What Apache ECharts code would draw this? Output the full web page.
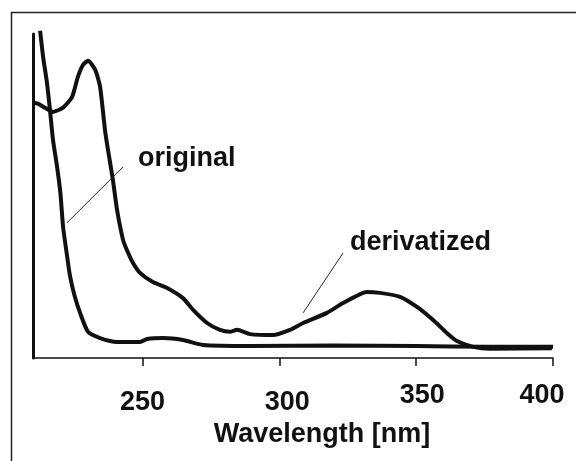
<!DOCTYPE html>
<html>
<head>
<meta charset="utf-8">
<script src="https://cdn.jsdelivr.net/npm/echarts@6/dist/echarts.min.js"></script>
<style>html,body{margin:0;padding:0;background:#fff}#c{width:576px;height:461px}</style>
</head>
<body>
<div id="c"></div>
<script>
// Wavelength (nm) and absorbance (arbitrary units)
var originalWl  = [212.6,213.7,215.1,216.2,217.3,218.8,220.0,221.0,222.4,223.5,225.3,227.2,230.1,234.5,240.7,249.1,251.7,257.5,264.8,272.1,289.3,320,350,375,400];
var originalAbs = [100,92.0,84.1,75.8,66.7,58.4,50.5,40.0,31.5,25.2,18.7,13.8,8.0,6.1,4.9,4.9,5.8,6.1,5.5,4.0,3.7,3.8,3.7,3.4,3.4];
var derivWl  = [210,211.8,213.7,217.3,221.0,224.3,226.4,228.3,230.1,232.7,234.5,236.3,237.4,239.2,240.7,242.9,244.3,246.5,249.1,253.8,259.0,264.8,268.5,273.6,278.3,282.0,284.5,289.3,297.7,303.9,308.7,317.4,323.3,332.0,336.8,344.1,350.3,356.2,361.3,364.9,370.8,377.0,399.6];
var derivAbs = [78.0,77.7,76.8,75.2,76.5,79.8,85.9,89.6,90.8,88.1,82.9,69.7,63.6,54.4,45.3,36.1,33.0,29.1,26.0,23.2,21.4,18.3,14.7,10.7,8.6,8.0,8.6,7.3,7.0,8.6,10.7,13.8,16.8,20.2,19.9,18.7,15.6,11.6,7.6,5.2,3.4,2.8,3.0];
var xTicks = [250, 300, 350, 400];
var xName = 'Wavelength [nm]';
// annotations: label text, label anchor [wl, abs], leader line [[wl,abs],[wl,abs]]
var originalLabel = 'original';
var originalLabelAt = [248.4, 61.0];
var originalLeader = [[242.9, 58.4], [222.4, 41.3]];
var derivLabel = 'derivatized';
var derivLabelAt = [325.8, 35.3];
var derivLeader = [[323.3, 32.1], [308.7, 13.8]];

function zip(a, b) { return a.map(function (v, i) { return [v, b[i]]; }); }

var FONT = 'Liberation Sans, Arial, sans-serif';
var INK = '#111';
var chart = echarts.init(document.getElementById('c'), null, {renderer: 'canvas'});

function annot(at, text, leader) {
  return {
    markPoint: {
      silent: true, animation: false,
      symbol: 'circle', symbolSize: 0,
      data: [{coord: at, value: text}],
      label: {show: true, position: 'right', distance: 0, formatter: text,
        fontFamily: FONT, fontWeight: 'bold', fontSize: 27, color: INK}
    },
    markLine: {
      silent: true, animation: false, symbol: ['none', 'none'],
      label: {show: false},
      lineStyle: {color: '#222', width: 1, type: 'solid'},
      data: [[{coord: leader[0]}, {coord: leader[1]}]]
    }
  };
}

var s1 = {
  type: 'line', name: 'original', data: zip(originalWl, originalAbs),
  showSymbol: false, smooth: 0.2, clip: false,
  lineStyle: {color: INK, width: 4}
};
Object.assign(s1, annot(originalLabelAt, originalLabel, originalLeader));
var s2 = {
  type: 'line', name: 'derivatized', data: zip(derivWl, derivAbs),
  showSymbol: false, smooth: 0.2, clip: false,
  lineStyle: {color: INK, width: 4}
};
Object.assign(s2, annot(derivLabelAt, derivLabel, derivLeader));

var rich = {
  t250: {padding: [7, 0, 0, 0]},
  t300: {padding: [7, 0, 0, 16]},
  t350: {padding: [0, 0, 0, 12]},
  t400: {padding: [0, 22, 0, 0]}
};
Object.keys(rich).forEach(function (k) {
  rich[k].fontFamily = FONT; rich[k].fontWeight = 'bold'; rich[k].fontSize = 27; rich[k].color = INK;
});

chart.setOption({
  animation: false,
  backgroundColor: '#fff',
  grid: {left: 33, right: 23, top: 34, bottom: 103},
  xAxis: {
    type: 'value', min: 210, max: 400,
    name: xName, nameLocation: 'middle', nameGap: 63,
    nameTextStyle: {fontFamily: FONT, fontWeight: 'bold', fontSize: 27, color: INK, padding: [0, 0, 0, 58]},
    axisLine: {show: true, lineStyle: {color: INK, width: 1.5}},
    axisTick: {show: true, inside: false, length: 8, customValues: xTicks, lineStyle: {color: INK, width: 1.5}},
    axisLabel: {show: true, margin: 24, customValues: xTicks,
      fontFamily: FONT, fontWeight: 'bold', fontSize: 27, color: INK,
      formatter: function (v) { return '{t' + v + '|' + v + '}'; }, rich: rich},
    splitLine: {show: false}
  },
  yAxis: {
    type: 'value', min: 0, max: 99,
    axisLine: {show: true, lineStyle: {color: INK, width: 3}},
    axisTick: {show: false}, axisLabel: {show: false}, splitLine: {show: false}
  },
  graphic: [
    {type: 'line', shape: {x1: 11, y1: 12.5, x2: 576, y2: 12.5}, style: {stroke: '#222', lineWidth: 1.5}},
    {type: 'line', shape: {x1: 11.5, y1: 12, x2: 11.5, y2: 461}, style: {stroke: '#222', lineWidth: 1.5}}
  ],
  series: [s1, s2]
});
</script>
</body>
</html>
